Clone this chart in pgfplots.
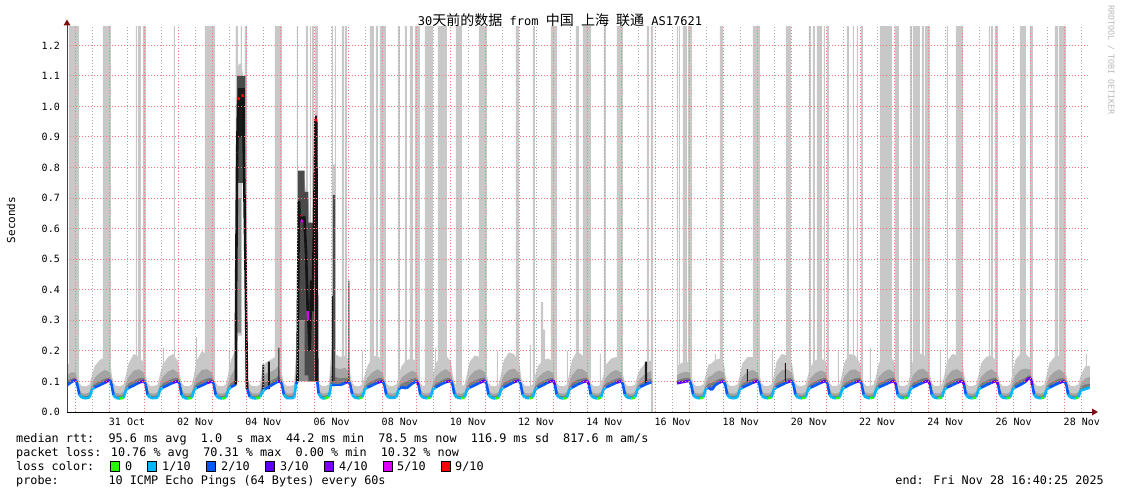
\documentclass[border=0pt]{standalone}
\usepackage{pgfplots}
\pgfplotsset{compat=1.18}
\usepackage{pgfplotstable}
\usepackage{fontspec}
\setmainfont{DejaVu Sans Mono}
\setmonofont{DejaVu Sans Mono}
\newfontfamily\cjk{Noto Sans CJK SC}

\definecolor{smokeA}{RGB}{200,200,200}
\definecolor{smokeB}{RGB}{164,164,164}
\definecolor{smokeC}{RGB}{122,122,122}
\definecolor{smokeD}{RGB}{140,140,140}
\definecolor{darkS}{RGB}{74,74,74}
\definecolor{blackS}{RGB}{26,26,26}
\definecolor{mgrid}{RGB}{255,120,120}
\definecolor{ngrid}{RGB}{170,170,170}
\definecolor{arrowred}{RGB}{128,16,16}

% x: days after 31 Oct 00:00, y: seconds; loss index 0..6 = 0,1,2,3,4,5,9 of 10, 7 = black
\pgfplotstableread{
u med h1 h2 h3 loss
-1.26 0.088 0.150 0.118 0.100 2
-1.15 0.096 0.165 0.130 0.108 2
-1.06 0.103 0.160 0.130 0.112 3
-1.00 0.104 0.150 0.125 0.112 2
-0.95 0.086 0.120 0.100 0.094 2
-0.90 0.057 0.095 0.075 0.066 1
-0.83 0.047 0.085 0.062 0.054 1
-0.70 0.045 0.084 0.060 0.052 1
-0.60 0.048 0.090 0.065 0.056 1
-0.53 0.073 0.120 0.092 0.082 1
-0.45 0.080 0.150 0.112 0.092 2
-0.30 0.088 0.170 0.128 0.101 2
-0.15 0.096 0.180 0.138 0.109 3
0.00 0.105 0.170 0.130 0.113 2
0.05 0.088 0.125 0.102 0.095 2
0.10 0.056 0.095 0.075 0.066 1
0.17 0.046 0.086 0.062 0.054 1
0.30 0.044 0.084 0.060 0.052 0
0.40 0.047 0.090 0.065 0.056 1
0.47 0.071 0.120 0.092 0.081 1
0.55 0.079 0.160 0.115 0.093 2
0.70 0.087 0.190 0.135 0.102 2
0.85 0.096 0.180 0.140 0.110 3
1.00 0.102 0.160 0.128 0.112 2
1.05 0.087 0.122 0.100 0.094 2
1.10 0.057 0.095 0.075 0.066 1
1.17 0.047 0.086 0.062 0.054 1
1.30 0.045 0.085 0.060 0.052 1
1.40 0.048 0.090 0.065 0.056 1
1.47 0.072 0.125 0.094 0.082 1
1.55 0.080 0.155 0.114 0.093 2
1.70 0.088 0.180 0.132 0.102 2
1.85 0.096 0.190 0.140 0.110 3
2.00 0.101 0.165 0.128 0.112 2
2.05 0.087 0.122 0.100 0.094 2
2.10 0.056 0.095 0.075 0.066 1
2.17 0.046 0.086 0.062 0.054 1
2.30 0.044 0.084 0.060 0.052 0
2.40 0.047 0.090 0.065 0.056 1
2.47 0.072 0.125 0.094 0.082 1
2.55 0.080 0.170 0.118 0.094 2
2.70 0.087 0.200 0.138 0.103 2
2.85 0.095 0.185 0.140 0.110 3
3.00 0.101 0.160 0.128 0.112 2
3.05 0.087 0.122 0.100 0.094 2
3.10 0.056 0.095 0.075 0.066 1
3.17 0.046 0.086 0.062 0.054 1
3.30 0.044 0.084 0.060 0.052 0
3.40 0.047 0.090 0.065 0.056 1
3.47 0.072 0.125 0.094 0.082 1
3.55 0.082 0.170 0.120 0.095 2
3.66 0.088 0.200 0.140 0.104 2
3.69 0.090 0.200 0.140 0.104 7
3.70 0.400 0.700 0.550 0.450 7
3.73 0.850 1.120 1.060 1.000 7
3.76 1.030 1.130 1.100 1.070 6
3.78 1.020 1.140 1.100 1.060 7
3.84 1.000 1.140 1.100 1.060 7
3.88 1.040 1.120 1.090 1.060 6
3.90 1.030 1.100 1.080 1.050 7
3.97 0.520 0.600 0.560 0.540 7
4.02 0.075 0.120 0.100 0.090 2
4.10 0.050 0.090 0.070 0.060 1
4.17 0.046 0.085 0.062 0.053 1
4.30 0.044 0.084 0.060 0.052 0
4.40 0.049 0.090 0.065 0.057 1
4.47 0.066 0.140 0.110 0.088 1
4.55 0.075 0.160 0.125 0.098 2
4.70 0.085 0.170 0.130 0.102 2
4.85 0.095 0.180 0.140 0.110 2
4.93 0.100 0.200 0.150 0.118 3
5.00 0.100 0.160 0.128 0.112 2
5.05 0.086 0.122 0.100 0.094 2
5.10 0.057 0.095 0.075 0.066 1
5.17 0.046 0.086 0.062 0.054 1
5.30 0.045 0.085 0.060 0.052 1
5.40 0.047 0.090 0.065 0.056 1
5.46 0.092 0.200 0.150 0.120 2
5.50 0.100 0.200 0.150 0.120 7
5.51 0.290 0.350 0.320 0.300 7
5.54 0.690 0.780 0.750 0.720 7
5.56 0.640 0.780 0.740 0.700 6
5.58 0.640 0.780 0.740 0.700 7
5.62 0.620 0.770 0.720 0.680 5
5.64 0.630 0.770 0.720 0.680 7
5.70 0.640 0.760 0.720 0.680 7
5.75 0.520 0.720 0.660 0.620 7
5.80 0.330 0.700 0.600 0.500 5
5.82 0.300 0.700 0.600 0.500 7
5.86 0.200 0.620 0.500 0.400 7
5.90 0.430 0.600 0.550 0.500 7
5.94 0.330 0.600 0.500 0.450 7
5.99 0.650 0.750 0.720 0.700 7
6.03 0.960 0.980 0.970 0.965 6
6.05 0.950 0.980 0.970 0.960 7
6.08 0.100 0.140 0.120 0.110 2
6.12 0.060 0.095 0.075 0.066 1
6.20 0.046 0.086 0.062 0.054 1
6.30 0.044 0.084 0.060 0.052 0
6.42 0.050 0.090 0.065 0.057 1
6.49 0.090 0.200 0.150 0.120 2
6.60 0.088 0.190 0.145 0.115 2
6.75 0.088 0.180 0.140 0.110 2
6.90 0.095 0.185 0.145 0.112 3
7.00 0.100 0.170 0.130 0.112 2
7.05 0.088 0.122 0.100 0.094 2
7.10 0.058 0.095 0.075 0.066 1
7.17 0.047 0.086 0.062 0.054 1
7.30 0.045 0.084 0.060 0.052 0
7.40 0.048 0.090 0.065 0.056 1
7.47 0.074 0.120 0.092 0.082 1
7.55 0.080 0.150 0.112 0.092 2
7.70 0.088 0.180 0.130 0.102 2
7.85 0.096 0.185 0.140 0.110 3
8.00 0.101 0.160 0.128 0.112 2
8.05 0.087 0.122 0.100 0.094 2
8.10 0.057 0.095 0.075 0.066 1
8.17 0.047 0.086 0.062 0.054 1
8.30 0.046 0.085 0.060 0.052 1
8.40 0.049 0.090 0.065 0.056 1
8.47 0.075 0.120 0.092 0.082 2
8.55 0.081 0.150 0.112 0.092 2
8.70 0.078 0.170 0.125 0.100 2
8.85 0.092 0.175 0.135 0.108 2
9.00 0.102 0.165 0.128 0.112 3
9.05 0.088 0.122 0.100 0.094 2
9.10 0.057 0.095 0.075 0.066 1
9.17 0.047 0.086 0.062 0.054 1
9.30 0.045 0.085 0.060 0.052 0
9.40 0.048 0.090 0.065 0.056 1
9.47 0.073 0.120 0.092 0.082 1
9.55 0.081 0.160 0.115 0.093 2
9.70 0.090 0.180 0.132 0.102 2
9.85 0.098 0.185 0.140 0.110 3
10.00 0.102 0.165 0.128 0.112 2
10.05 0.088 0.122 0.100 0.094 2
10.10 0.058 0.095 0.075 0.066 1
10.17 0.047 0.086 0.062 0.054 1
10.30 0.045 0.084 0.060 0.052 0
10.40 0.048 0.090 0.065 0.056 1
10.47 0.073 0.125 0.094 0.082 1
10.55 0.080 0.165 0.118 0.094 2
10.70 0.088 0.185 0.135 0.103 2
10.85 0.096 0.180 0.140 0.110 3
11.00 0.103 0.170 0.130 0.113 2
11.05 0.088 0.122 0.100 0.094 2
11.10 0.057 0.095 0.075 0.066 1
11.17 0.047 0.086 0.062 0.054 1
11.30 0.044 0.084 0.060 0.052 0
11.40 0.048 0.090 0.065 0.056 1
11.47 0.074 0.125 0.094 0.082 1
11.55 0.081 0.170 0.120 0.095 2
11.70 0.089 0.195 0.138 0.104 2
11.85 0.098 0.190 0.142 0.111 3
12.00 0.103 0.160 0.128 0.112 2
12.05 0.088 0.122 0.100 0.094 2
12.10 0.057 0.095 0.075 0.066 1
12.17 0.047 0.086 0.062 0.054 1
12.30 0.045 0.085 0.060 0.052 0
12.40 0.048 0.090 0.065 0.056 1
12.47 0.072 0.120 0.092 0.082 1
12.55 0.080 0.150 0.112 0.092 2
12.70 0.088 0.170 0.128 0.101 2
12.85 0.097 0.175 0.136 0.109 3
13.00 0.103 0.165 0.128 0.112 3
13.05 0.088 0.122 0.100 0.094 2
13.10 0.057 0.095 0.075 0.066 1
13.17 0.047 0.086 0.062 0.054 1
13.30 0.044 0.084 0.060 0.052 0
13.40 0.047 0.090 0.065 0.056 1
13.47 0.072 0.125 0.094 0.082 1
13.55 0.080 0.170 0.120 0.095 2
13.70 0.089 0.200 0.140 0.105 2
13.85 0.097 0.185 0.140 0.110 3
14.00 0.102 0.165 0.128 0.112 3
14.05 0.088 0.122 0.100 0.094 2
14.10 0.057 0.095 0.075 0.066 1
14.17 0.047 0.086 0.062 0.054 1
14.30 0.044 0.084 0.060 0.052 0
14.40 0.048 0.090 0.065 0.056 1
14.47 0.073 0.120 0.092 0.082 1
14.55 0.081 0.155 0.114 0.093 2
14.70 0.088 0.175 0.130 0.102 2
14.85 0.096 0.180 0.138 0.109 3
15.00 0.101 0.160 0.128 0.112 2
15.05 0.087 0.122 0.100 0.094 2
15.10 0.057 0.095 0.075 0.066 1
15.17 0.047 0.086 0.062 0.054 1
15.30 0.045 0.085 0.060 0.052 0
15.40 0.048 0.090 0.065 0.056 1
15.47 0.074 0.120 0.092 0.082 1
15.55 0.082 0.140 0.110 0.092 2
15.70 0.090 0.160 0.125 0.102 2
15.88 0.098 0.170 0.135 0.110 2
}\dataA

\pgfplotstableread{
u med h1 h2 h3 loss
16.63 0.094 0.150 0.120 0.104 3
16.75 0.097 0.160 0.128 0.108 3
16.90 0.100 0.165 0.132 0.112 3
17.00 0.102 0.160 0.128 0.112 2
17.05 0.087 0.122 0.100 0.094 2
17.10 0.057 0.095 0.075 0.066 1
17.17 0.047 0.086 0.062 0.054 1
17.30 0.045 0.085 0.060 0.052 0
17.40 0.048 0.090 0.065 0.056 1
17.47 0.074 0.120 0.092 0.082 1
17.55 0.080 0.155 0.114 0.093 2
17.65 0.072 0.160 0.120 0.095 2
17.75 0.088 0.170 0.130 0.102 2
17.88 0.097 0.175 0.136 0.109 3
18.00 0.101 0.160 0.128 0.112 2
18.05 0.087 0.122 0.100 0.094 2
18.10 0.057 0.095 0.075 0.066 1
18.17 0.047 0.086 0.062 0.054 1
18.30 0.045 0.085 0.060 0.052 1
18.40 0.048 0.090 0.065 0.056 1
18.47 0.073 0.120 0.092 0.082 1
18.55 0.080 0.160 0.115 0.093 2
18.70 0.088 0.180 0.132 0.102 2
18.85 0.096 0.180 0.138 0.109 3
19.00 0.102 0.165 0.128 0.112 2
19.05 0.088 0.122 0.100 0.094 2
19.10 0.057 0.095 0.075 0.066 1
19.17 0.047 0.086 0.062 0.054 1
19.30 0.045 0.085 0.060 0.052 0
19.40 0.048 0.090 0.065 0.056 1
19.47 0.073 0.120 0.092 0.082 1
19.55 0.081 0.165 0.118 0.094 2
19.70 0.089 0.190 0.136 0.103 2
19.85 0.097 0.185 0.140 0.110 3
20.00 0.102 0.160 0.128 0.112 2
20.05 0.087 0.122 0.100 0.094 2
20.10 0.057 0.095 0.075 0.066 1
20.17 0.047 0.086 0.062 0.054 1
20.30 0.045 0.085 0.060 0.052 0
20.40 0.048 0.090 0.065 0.056 1
20.47 0.073 0.120 0.092 0.082 1
20.55 0.080 0.150 0.112 0.092 2
20.70 0.088 0.170 0.128 0.101 2
20.85 0.096 0.175 0.136 0.109 3
21.00 0.102 0.165 0.128 0.112 2
21.05 0.088 0.122 0.100 0.094 2
21.10 0.057 0.095 0.075 0.066 1
21.17 0.047 0.086 0.062 0.054 1
21.30 0.045 0.085 0.060 0.052 0
21.40 0.048 0.090 0.065 0.056 1
21.47 0.073 0.125 0.094 0.082 1
21.55 0.081 0.165 0.118 0.094 2
21.70 0.089 0.190 0.136 0.103 2
21.85 0.097 0.185 0.140 0.110 3
22.00 0.102 0.160 0.128 0.112 2
22.05 0.088 0.122 0.100 0.094 2
22.10 0.057 0.095 0.075 0.066 1
22.17 0.047 0.086 0.062 0.054 1
22.30 0.045 0.085 0.060 0.052 0
22.40 0.048 0.090 0.065 0.056 1
22.47 0.073 0.120 0.092 0.082 1
22.55 0.081 0.160 0.115 0.093 2
22.70 0.088 0.180 0.132 0.102 2
22.85 0.096 0.185 0.140 0.110 3
23.00 0.102 0.165 0.128 0.112 3
23.05 0.088 0.122 0.100 0.094 2
23.10 0.057 0.095 0.075 0.066 1
23.17 0.047 0.086 0.062 0.054 1
23.30 0.045 0.085 0.060 0.052 0
23.40 0.048 0.090 0.065 0.056 1
23.47 0.073 0.125 0.094 0.082 1
23.55 0.081 0.170 0.120 0.095 2
23.70 0.089 0.190 0.138 0.104 2
23.85 0.097 0.190 0.142 0.111 3
24.00 0.102 0.165 0.128 0.112 3
24.05 0.088 0.122 0.100 0.094 2
24.10 0.057 0.095 0.075 0.066 1
24.17 0.047 0.086 0.062 0.054 1
24.30 0.045 0.085 0.060 0.052 0
24.40 0.048 0.090 0.065 0.056 1
24.47 0.073 0.120 0.092 0.082 1
24.55 0.080 0.165 0.118 0.094 2
24.70 0.088 0.190 0.136 0.103 2
24.85 0.096 0.185 0.140 0.110 3
25.00 0.102 0.165 0.128 0.112 3
25.05 0.088 0.122 0.100 0.094 2
25.10 0.057 0.095 0.075 0.066 1
25.17 0.047 0.086 0.062 0.054 1
25.30 0.045 0.085 0.060 0.052 0
25.40 0.048 0.090 0.065 0.056 1
25.47 0.073 0.120 0.092 0.082 1
25.55 0.080 0.160 0.115 0.093 2
25.70 0.088 0.180 0.132 0.102 2
25.85 0.096 0.185 0.140 0.110 3
26.00 0.102 0.165 0.128 0.112 3
26.05 0.088 0.122 0.100 0.094 2
26.10 0.057 0.095 0.075 0.066 1
26.17 0.047 0.086 0.062 0.054 1
26.30 0.045 0.085 0.060 0.052 0
26.40 0.048 0.090 0.065 0.056 1
26.47 0.073 0.125 0.094 0.082 1
26.55 0.081 0.170 0.120 0.095 2
26.70 0.089 0.190 0.138 0.104 2
26.85 0.099 0.190 0.142 0.112 3
26.95 0.112 0.180 0.140 0.120 4
27.00 0.110 0.170 0.135 0.118 3
27.05 0.088 0.122 0.100 0.094 2
27.10 0.057 0.095 0.075 0.066 1
27.17 0.047 0.086 0.062 0.054 1
27.30 0.045 0.085 0.060 0.052 0
27.40 0.048 0.090 0.065 0.056 1
27.47 0.073 0.120 0.092 0.082 1
27.55 0.080 0.160 0.115 0.093 2
27.70 0.088 0.180 0.132 0.102 2
27.85 0.096 0.185 0.140 0.110 3
28.00 0.101 0.160 0.125 0.110 2
28.05 0.087 0.120 0.100 0.094 2
28.10 0.057 0.095 0.075 0.066 1
28.17 0.047 0.086 0.062 0.054 1
28.30 0.045 0.085 0.060 0.052 0
28.40 0.048 0.090 0.065 0.056 1
28.47 0.070 0.120 0.092 0.082 1
28.60 0.075 0.150 0.110 0.090 1
28.74 0.080 0.150 0.115 0.092 1
}\dataB

% grey bars (tall smoke): height held from u until the next row
\pgfplotstableread{
u h
-1.26 0
-1.202 1.3
-0.909 0
-0.205 1.3
0.029 0
0.762 1.3
0.792 0
0.821 1.3
0.909 0
0.968 1.3
1.056 0
1.554 0.21
1.584 0
1.877 1.3
1.906 0
2.522 0.245
2.552 0
2.786 1.3
3.079 0
3.490 0.20
3.520 0
3.695 1.3
3.754 0
3.842 1.3
3.871 0
3.959 1.3
4.018 0
4.839 1.3
5.044 0
5.484 1.3
5.513 0
5.748 1.3
5.806 0
5.865 1.3
5.894 0
5.924 1.3
5.982 0
6.012 1.3
6.100 0
6.510 1.3
6.540 0.81
6.598 1.3
6.628 0
6.804 1.3
6.862 0
6.891 1.3
6.950 0
7.390 0.20
7.420 0
7.625 1.3
7.742 0
7.801 1.3
7.859 0
7.918 1.3
8.094 0
8.446 1.3
8.504 0
8.651 1.3
8.710 0
8.798 1.3
8.886 0
8.944 1.3
9.091 0
9.238 1.3
9.472 0
9.531 0.21
9.561 0
9.619 1.3
9.883 0
10.147 1.3
10.323 0
10.821 1.3
11.056 0
11.349 0.20
11.379 0
11.906 1.3
11.994 0
12.317 0.22
12.347 0
12.405 1.3
12.463 0
12.639 0.36
12.700 0.27
12.760 0
12.933 1.3
13.109 0
13.402 0.20
13.432 0
13.666 1.3
13.754 0
13.871 1.3
14.106 0
14.370 0.19
14.400 0
14.487 1.3
14.545 0
14.868 1.3
15.044 0
15.748 1.3
15.806 0
15.865 1.3
15.924 0
16.628 1.3
16.657 0
16.686 1.3
16.716 0
16.804 1.3
16.921 0
16.950 1.3
17.067 0
17.742 0.19
17.772 0
17.889 1.3
17.977 0
18.856 1.3
19.062 0
19.413 0.20
19.443 0
19.824 1.3
19.971 0
20.499 1.3
20.557 0
20.616 1.3
20.674 0
20.733 1.3
20.880 0
20.938 1.3
20.968 0
21.026 1.3
21.085 0
21.349 0.20
21.379 0
21.613 1.3
21.672 0
21.789 1.3
21.818 0
21.906 1.3
21.935 0
22.023 1.3
22.082 0
22.287 0.21
22.317 0
22.581 1.3
22.933 0
23.021 1.3
23.138 0
23.460 1.3
23.519 0
23.548 1.3
23.754 0
23.812 1.3
23.871 0
23.900 1.3
24.047 0
24.340 0.20
24.370 0
24.545 1.3
24.575 0
24.809 1.3
25.015 0
25.777 1.3
25.806 0
25.836 1.3
25.894 0
25.953 1.3
26.041 0
26.452 0.20
26.482 0
26.686 1.3
26.862 0
26.979 1.3
27.067 0
27.713 1.3
27.801 0
27.830 1.3
28.035 0
28.620 0.19
28.650 0
28.74 0
}\bars

% spike smoke drawn over the median gap (rectangles, nan separated)
\pgfplotstableread{
u y
3.695 0.10
3.754 0.10
3.754 1.26
3.695 1.26
nan nan
3.754 0.25
3.842 0.25
3.842 1.13
3.754 1.13
nan nan
3.842 0.25
3.871 0.25
3.871 1.26
3.842 1.26
nan nan
3.959 0.10
4.018 0.10
4.018 1.26
3.959 1.26
nan nan
}\spLight

\pgfplotstableread{
u y
3.71 0.26
3.84 0.26
3.84 0.70
3.71 0.70
nan nan
5.50 0.10
6.02 0.10
6.02 0.30
5.50 0.30
nan nan
}\spMid

\pgfplotstableread{
u y
3.73 0.75
3.97 0.75
3.97 1.10
3.73 1.10
nan nan
5.51 0.30
5.71 0.30
5.71 0.79
5.51 0.79
nan nan
5.71 0.12
5.82 0.12
5.82 0.72
5.71 0.72
nan nan
5.82 0.10
6.00 0.10
6.00 0.62
5.82 0.62
nan nan
6.54 0.10
6.60 0.10
6.60 0.71
6.54 0.71
nan nan
}\spDark

\pgfplotstableread{
u y
3.75 0.90
3.96 0.90
3.96 1.06
3.75 1.06
nan nan
4.47 0.070
4.52 0.070
4.52 0.155
4.47 0.155
nan nan
4.63 0.075
4.69 0.075
4.69 0.165
4.63 0.165
nan nan
4.94 0.095
4.97 0.095
4.97 0.210
4.94 0.210
nan nan
6.02 0.10
6.07 0.10
6.07 0.97
6.02 0.97
nan nan
6.51 0.10
6.54 0.10
6.54 0.38
6.51 0.38
nan nan
6.99 0.10
7.02 0.10
7.02 0.43
6.99 0.43
nan nan
15.69 0.090
15.75 0.090
15.75 0.165
15.69 0.165
nan nan
18.68 0.10
18.71 0.10
18.71 0.14
18.68 0.14
nan nan
19.79 0.10
19.82 0.10
19.82 0.16
19.79 0.16
nan nan
}\spBlack

\newcommand\smoke[1]{%
  \addplot[fill=smokeA, draw=none] table[x=u,y=h1]{#1} \closedcycle;
  \addplot[fill=smokeB, draw=none] table[x=u,y=h2]{#1} \closedcycle;
  \addplot[fill=smokeC, draw=none] table[x=u,y=h3]{#1} \closedcycle;
  \addplot[fill=white, draw=none] table[x=u,y=med]{#1} \closedcycle;
}
\newcommand\median[1]{%
  \addplot[mesh, shader=flat corner, point meta=\thisrow{loss}, line width=2.6pt] table[x=u,y=med]{#1};
}

\begin{document}
\begin{tikzpicture}[x=1pt,y=1pt]
\useasboundingbox (0,0) rectangle (1121,-494);
\begin{axis}[
  at={(67pt,-412pt)}, anchor=south west,
  scale only axis, width=1023pt, height=385pt,
  xmin=-1.26, xmax=28.74, ymin=0, ymax=1.26,
  axis on top,
  axis line style={draw=none},
  tick style={draw=none},
  xtick={-1,0,...,28},
  xticklabels={,31 Oct,,02 Nov,,04 Nov,,06 Nov,,08 Nov,,10 Nov,,12 Nov,,14 Nov,,16 Nov,,18 Nov,,20 Nov,,22 Nov,,24 Nov,,26 Nov,,28 Nov},
  minor xtick={-0.5,0.5,...,28.5},
  xmajorgrids, xminorgrids, ymajorgrids,
  major grid style={mgrid, dash pattern=on 1pt off 2pt, line width=1pt},
  minor grid style={ngrid, dash pattern=on 1pt off 2pt, line width=1pt},
  ytick={0,0.1,0.2,0.3,0.4,0.5,0.6,0.7,0.8,0.9,1.0,1.1,1.2},
  /pgf/number format/assume math mode=true,
  yticklabel={\pgfmathprintnumber[fixed,fixed zerofill,precision=1]{\tick}},
  yticklabel style={font=\fontsize{10}{12}\selectfont, anchor=east, inner sep=0pt, xshift=-7pt},
  xticklabel style={font=\fontsize{10}{12}\selectfont, anchor=base, inner sep=0pt, yshift=-13pt, xshift=17.05pt},
  colormap={loss}{rgb255=(38,255,0) rgb255=(0,184,255) rgb255=(0,89,255) rgb255=(94,0,255) rgb255=(126,0,255) rgb255=(221,0,255) rgb255=(255,0,0) rgb255=(20,20,20)},
  colormap access=direct,
]
\addplot[const plot, fill=smokeA, draw=none] table[x=u,y=h]{\bars} \closedcycle;
\smoke{\dataA}
\smoke{\dataB}
\addplot[fill=smokeA, draw=none, unbounded coords=jump] table[x=u,y=y]{\spLight};
\addplot[fill=smokeD, draw=none, unbounded coords=jump] table[x=u,y=y]{\spMid};
\addplot[fill=darkS, draw=none, unbounded coords=jump] table[x=u,y=y]{\spDark};
\addplot[fill=blackS, draw=none, unbounded coords=jump] table[x=u,y=y]{\spBlack};
\median{\dataA}
\median{\dataB}
\end{axis}
% axes with arrow heads
\draw[black, line width=1pt] (67,-412) -- (1093,-412);
\draw[black!75, line width=1pt] (67,-412) -- (67,-25);
\fill[arrowred] (1092,-408.5) -- (1098,-412) -- (1092,-415.5) -- cycle;
\fill[arrowred] (63.5,-25.5) -- (67,-19.5) -- (70.5,-25.5) -- cycle;
% title and labels
\node[anchor=base, inner sep=0pt, font=\fontsize{12}{14}\selectfont] at (560,-25.5)
  {30{\cjk\fontsize{14}{14}\selectfont 天前的数据} from {\cjk\fontsize{14}{14}\selectfont 中国} {\cjk\fontsize{14}{14}\selectfont 上海} {\cjk\fontsize{14}{14}\selectfont 联通} AS17621};
\node[rotate=90, inner sep=0pt, font=\fontsize{11}{13}\selectfont] at (11,-220) {Seconds};
\node[rotate=-90, inner sep=0pt, text=black!28, font=\fontsize{8.3}{10}\selectfont] at (1111,-60) {RRDTOOL / TOBI OETIKER};
% legend
\begin{scope}[every node/.style={anchor=base west, inner sep=0pt, font=\fontsize{11.8}{14}\selectfont}]
\node at (16,-442) {median rtt:\ \ 95.6 ms avg\ \ 1.0\ \ s max\ \ 44.2 ms min\ \ 78.5 ms now\ \ 116.9 ms sd\ \ 817.6 m am/s};
\node at (16,-456) {packet loss: 10.76 \% avg\ \ 70.31 \% max\ \ 0.00 \% min\ \ 10.32 \% now};
\node at (16,-470) {loss color:};
\node at (16,-484) {probe:\ \ \ \ \ \ \ 10 ICMP Echo Pings (64 Bytes) every 60s};
\node[anchor=base east] at (1104,-484) {end: Fri Nov 28 16:40:25 2025};
\foreach \sx/\lx/\c/\t in {110/125/{rgb,255:red,38;green,255;blue,0}/0,
                         147/162/{rgb,255:red,0;green,184;blue,255}/1\slash 10,
                         206/221/{rgb,255:red,0;green,89;blue,255}/2\slash 10,
                         265/280/{rgb,255:red,94;green,0;blue,255}/3\slash 10,
                         324/339/{rgb,255:red,126;green,0;blue,255}/4\slash 10,
                         383/397/{rgb,255:red,221;green,0;blue,255}/5\slash 10,
                         441/455/{rgb,255:red,255;green,0;blue,0}/9\slash 10} {
  \filldraw[fill=\c, draw=black, line width=0.8pt] (\sx,-461) rectangle (\sx+9,-471);
  \node at (\lx,-470) {\t};
}
\end{scope}
\end{tikzpicture}
\end{document}
